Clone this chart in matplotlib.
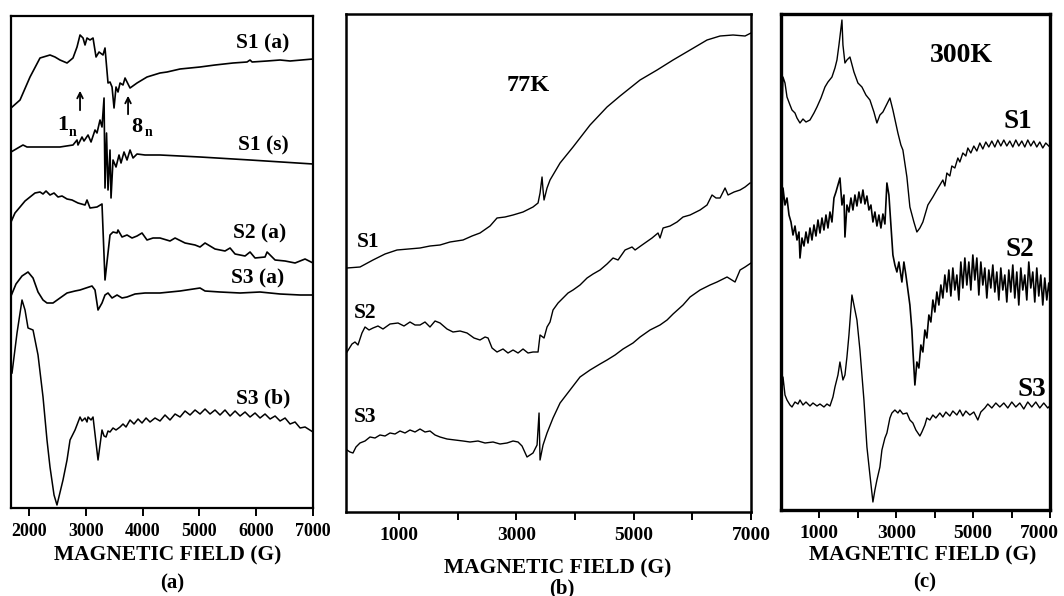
import numpy as np
import matplotlib
matplotlib.use('Agg')
import matplotlib.pyplot as plt
from matplotlib.transforms import ScaledTranslation

plt.rcParams['font.family'] = ['Liberation Serif', 'DejaVu Serif']
plt.rcParams['font.weight'] = 'bold'

# ---- panel (a) : field in G, signal in arbitrary units ----
field_s1a = [1680, 1839, 2015, 2191, 2367, 2455, 2543, 2667, 2772, 2843, 2896, 2949, 2984, 3019, 3072, 3125,
             3178, 3231, 3301, 3336, 3389, 3424, 3460, 3495, 3530, 3565, 3601, 3653, 3689, 3724, 3777, 3900,
             4076, 4305, 4429, 4658, 5010, 5274, 5592, 5838, 5891, 5927, 6191, 6420, 6596, 7000]
sig_s1a = [400, 408, 431, 450, 453, 451, 448, 445, 450, 461, 473, 470, 463, 470, 468, 470,
           451, 456, 453, 460, 425, 426, 421, 400, 421, 416, 425, 423, 430, 426, 420, 425,
           431, 435, 436, 439, 441, 443, 445, 446, 448, 446, 447, 448, 447, 449]

field_s1s = [1680, 1891, 1962, 2367, 2543, 2772, 2843, 2860, 2931, 2966, 3037, 3090, 3160, 3195, 3248, 3283,
             3319, 3336, 3363, 3389, 3424, 3442, 3477, 3530, 3583, 3618, 3671, 3724, 3777, 3830, 3900, 4041,
             4305, 5010, 5891, 7000]
sig_s1s = [356, 363, 361, 361, 361, 363, 368, 363, 371, 367, 373, 366, 378, 375, 388, 381,
           410, 320, 375, 318, 358, 310, 348, 341, 353, 345, 356, 348, 358, 350, 354, 353,
           353, 351, 348, 344]

field_s2a = [1680, 1750, 1839, 1927, 2015, 2103, 2191, 2244, 2297, 2367, 2438, 2508, 2579, 2667, 2755, 2860,
             2984, 3019, 3072, 3195, 3283, 3336, 3424, 3477, 3548, 3565, 3636, 3724, 3812, 3900, 3988, 4076,
             4182, 4305, 4481, 4570, 4746, 4922, 5010, 5098, 5274, 5450, 5539, 5627, 5803, 5891, 5979, 6155,
             6191, 6332, 6508, 6684, 6860, 7000]
sig_s2a = [286, 295, 301, 307, 311, 315, 316, 314, 317, 313, 315, 311, 312, 309, 308, 305,
           303, 308, 300, 301, 304, 228, 273, 276, 275, 278, 271, 273, 270, 272, 275, 268,
           270, 270, 267, 270, 265, 263, 261, 265, 259, 257, 260, 254, 252, 256, 250, 251,
           256, 248, 247, 245, 249, 245]

field_s3a = [1680, 1768, 1874, 1980, 2068, 2156, 2244, 2314, 2420, 2543, 2667, 2808, 2896, 3001, 3107, 3160,
             3213, 3283, 3336, 3389, 3460, 3548, 3636, 3724, 3865, 4041, 4305, 4658, 5010, 5098, 5362, 5715,
             6067, 6420, 6773, 7000]
sig_s3a = [212, 224, 232, 236, 230, 216, 208, 205, 205, 210, 215, 217, 218, 220, 222, 218,
           198, 205, 213, 215, 210, 213, 210, 211, 214, 215, 215, 217, 220, 217, 216, 215,
           216, 214, 213, 213]

field_s3b = [1698, 1786, 1874, 1927, 1980, 2068, 2156, 2244, 2314, 2367, 2438, 2490, 2596, 2667, 2720, 2808,
             2896, 2931, 2984, 3019, 3037, 3090, 3125, 3213, 3283, 3319, 3354, 3389, 3424, 3477, 3530, 3601,
             3653, 3706, 3777, 3847, 3918, 3988, 4059, 4129, 4217, 4305, 4393, 4481, 4570, 4658, 4746, 4834,
             4922, 5010, 5098, 5186, 5274, 5362, 5450, 5539, 5627, 5715, 5803, 5891, 5979, 6067, 6155, 6244,
             6332, 6420, 6508, 6596, 6684, 6773, 6860, 7000]
sig_s3b = [135, 175, 208, 198, 180, 178, 153, 111, 68, 41, 13, 3, 28, 48, 68, 78,
           91, 87, 90, 86, 91, 88, 91, 48, 78, 72, 71, 77, 76, 80, 78, 81,
           84, 81, 88, 84, 89, 85, 90, 86, 90, 87, 93, 88, 94, 91, 97, 93,
           98, 94, 99, 94, 98, 93, 98, 92, 97, 92, 96, 91, 95, 90, 94, 89,
           92, 87, 90, 84, 86, 80, 81, 76]

# ---- panel (b) : 77K ----
field_b1 = [117, 339, 560, 765, 969, 1361, 1531, 1702, 1872, 2094, 2247, 2383, 2554, 2673, 2809, 2946,
            3116, 3286, 3372, 3406, 3440, 3457, 3474, 3525, 3576, 3747, 3968, 4258, 4547, 4769, 5110, 5400,
            5672, 5962, 6251, 6473, 6694, 6899, 7000]
sig_b1 = [244, 245, 252, 258, 262, 264, 266, 267, 270, 272, 276, 279, 286, 294, 295, 297,
          300, 305, 309, 319, 335, 322, 312, 324, 332, 349, 365, 387, 405, 416, 432, 442,
          452, 462, 472, 476, 477, 476, 479]

field_b2 = [117, 202, 253, 304, 372, 424, 492, 560, 645, 730, 850, 986, 1088, 1190, 1276, 1361,
            1446, 1531, 1617, 1702, 1821, 1923, 2043, 2162, 2281, 2383, 2469, 2520, 2588, 2673, 2775, 2860,
            2946, 3031, 3116, 3201, 3286, 3372, 3406, 3474, 3525, 3576, 3627, 3713, 3798, 3883, 3968, 4087,
            4207, 4309, 4428, 4547, 4650, 4735, 4854, 4973, 5025, 5144, 5314, 5416, 5450, 5502, 5621, 5740,
            5842, 5962, 6132, 6251, 6336, 6404, 6473, 6558, 6609, 6711, 6814, 6899, 6984]
sig_b2 = [160, 168, 170, 167, 179, 185, 182, 184, 186, 183, 188, 189, 186, 190, 187, 187,
          190, 185, 191, 189, 183, 180, 181, 179, 174, 172, 175, 174, 164, 160, 163, 159,
          162, 159, 163, 159, 160, 160, 177, 174, 185, 190, 202, 209, 214, 219, 222, 227,
          234, 238, 242, 248, 254, 252, 262, 265, 262, 267, 274, 279, 274, 284, 286, 290,
          295, 297, 302, 307, 317, 314, 314, 324, 317, 320, 322, 325, 329]

field_b3 = [117, 168, 219, 270, 338, 424, 509, 594, 679, 765, 850, 935, 1020, 1105, 1190, 1276,
            1361, 1446, 1531, 1617, 1702, 1821, 1957, 2094, 2213, 2349, 2469, 2605, 2724, 2843, 2946, 3031,
            3099, 3184, 3286, 3355, 3389, 3406, 3457, 3525, 3627, 3747, 3917, 4087, 4258, 4428, 4547, 4684,
            4820, 4990, 5110, 5280, 5450, 5570, 5672, 5842, 5962, 6132, 6302, 6421, 6592, 6728, 6814, 6899, 7000]
sig_b3 = [62, 60, 59, 65, 69, 71, 75, 74, 77, 76, 79, 78, 81, 79, 82, 80,
          83, 80, 81, 77, 75, 73, 72, 71, 70, 71, 69, 70, 68, 69, 71, 70,
          66, 55, 59, 67, 99, 52, 67, 79, 94, 109, 122, 135, 142, 148, 152, 157,
          163, 169, 175, 182, 187, 192, 198, 207, 215, 222, 227, 230, 235, 230, 242, 245, 249]

# ---- panel (c) : 300K ----
field_c1 = [26, 52, 104, 156, 234, 286, 364, 416, 494, 572, 650, 754, 858, 936, 1040, 1144,
            1222, 1326, 1404, 1456, 1508, 1586, 1612, 1664, 1716, 1794, 1898, 2002, 2106, 2210, 2314, 2418,
            2496, 2574, 2652, 2756, 2834, 2912, 3042, 3120, 3172, 3276, 3354, 3458, 3536, 3614, 3692, 3822,
            3952, 4056, 4134, 4212, 4264, 4316, 4394, 4446, 4524, 4602, 4654, 4732, 4810, 4862, 4940, 5018,
            5096, 5174, 5252, 5330, 5408, 5486, 5564, 5642, 5720, 5798, 5876, 5954, 6032, 6110, 6188, 6266,
            6344, 6422, 6500, 6578, 6656, 6734, 6812, 6890, 6994]
sig_c1 = [393, 433, 427, 413, 405, 400, 397, 392, 387, 391, 388, 390, 397, 403, 412, 423,
          428, 433, 442, 450, 465, 490, 465, 447, 450, 453, 438, 427, 423, 415, 410, 398,
          387, 395, 398, 406, 412, 400, 377, 365, 360, 333, 303, 288, 278, 282, 288, 305,
          313, 320, 325, 330, 324, 337, 334, 344, 342, 352, 348, 357, 354, 362, 357, 364,
          359, 367, 361, 368, 363, 369, 363, 370, 364, 370, 364, 369, 363, 370, 364, 369,
          363, 370, 364, 369, 363, 368, 362, 367, 363]

field_c2 = [26, 52, 104, 156, 208, 260, 312, 364, 416, 468, 494, 546, 598, 650, 702, 754,
            806, 858, 910, 962, 1014, 1066, 1118, 1170, 1222, 1274, 1326, 1378, 1430, 1482, 1534, 1586,
            1638, 1664, 1716, 1768, 1820, 1872, 1924, 1976, 2028, 2080, 2132, 2184, 2236, 2288, 2340, 2392,
            2444, 2496, 2548, 2600, 2652, 2704, 2756, 2808, 2860, 2912, 2964, 3016, 3068, 3146, 3198, 3250,
            3302, 3354, 3406, 3432, 3484, 3536, 3588, 3640, 3692, 3744, 3796, 3848, 3900, 3952, 4004, 4056,
            4108, 4160, 4212, 4264, 4316, 4368, 4420, 4472, 4524, 4576, 4628, 4680, 4732, 4784, 4836, 4888,
            4940, 4992, 5044, 5096, 5148, 5200, 5252, 5304, 5356, 5408, 5460, 5512, 5564, 5616, 5668, 5720,
            5772, 5824, 5876, 5928, 5980, 6032, 6084, 6136, 6188, 6240, 6292, 6344, 6396, 6448, 6500, 6552,
            6604, 6656, 6708, 6760, 6812, 6864, 6916, 6968, 6994]
sig_c2 = [295, 322, 305, 312, 295, 288, 275, 284, 270, 278, 252, 272, 264, 278, 267, 282,
          270, 285, 274, 290, 277, 292, 280, 295, 282, 298, 288, 312, 318, 325, 332, 305,
          315, 273, 305, 298, 312, 300, 315, 304, 318, 307, 320, 306, 314, 300, 305, 288,
          298, 284, 295, 282, 296, 286, 327, 315, 285, 255, 245, 238, 248, 228, 248, 235,
          220, 205, 180, 160, 125, 148, 142, 165, 158, 180, 172, 195, 188, 210, 198, 218,
          205, 225, 212, 235, 218, 240, 214, 242, 220, 235, 210, 248, 222, 252, 225, 248,
          220, 255, 230, 252, 215, 248, 225, 242, 212, 240, 222, 245, 218, 238, 210, 242,
          220, 235, 208, 240, 218, 245, 212, 238, 205, 242, 220, 235, 210, 248, 222, 238,
          208, 242, 214, 235, 205, 232, 210, 227, 218]

field_c3 = [26, 52, 104, 156, 234, 286, 364, 442, 494, 572, 650, 754, 832, 936, 1014, 1118,
            1196, 1274, 1352, 1404, 1482, 1534, 1612, 1664, 1716, 1768, 1846, 1898, 1976, 2054, 2106, 2158,
            2236, 2314, 2392, 2444, 2496, 2574, 2626, 2704, 2756, 2834, 2886, 2964, 3042, 3094, 3172, 3276,
            3354, 3432, 3510, 3562, 3614, 3666, 3744, 3796, 3874, 3952, 4030, 4134, 4212, 4290, 4394, 4472,
            4576, 4654, 4732, 4810, 4914, 5018, 5122, 5200, 5304, 5382, 5486, 5590, 5694, 5798, 5902, 6006,
            6110, 6214, 6318, 6422, 6526, 6630, 6734, 6838, 6942, 6994]
sig_c3 = [120, 133, 115, 110, 105, 103, 108, 106, 110, 105, 108, 104, 107, 104, 106, 103,
          106, 104, 113, 123, 135, 148, 130, 135, 153, 175, 215, 205, 190, 160, 135, 110,
          63, 35, 8, 20, 30, 43, 60, 72, 77, 92, 97, 100, 97, 100, 96, 97,
          90, 87, 80, 77, 74, 78, 85, 92, 90, 95, 92, 97, 93, 98, 94, 99,
          95, 100, 94, 99, 95, 98, 90, 98, 102, 106, 102, 107, 103, 107, 102, 108,
          103, 107, 101, 108, 103, 108, 102, 107, 102, 104]

W, H = 1064, 596
fig = plt.figure(figsize=(W / 100, H / 100), dpi=100)


def px_axes(x0, y0, x1, y1):
    return fig.add_axes([x0 / W, 1 - y1 / H, (x1 - x0) / W, (y1 - y0) / H])


def style(ax, frame_lw, label_size, ticks, labels):
    for s in ax.spines.values():
        s.set_linewidth(frame_lw)
    ax.set_yticks([])
    ax.set_xticks(ticks)
    ax.set_xticklabels(labels, fontsize=label_size, fontweight='bold')
    ax.tick_params(axis='x', direction='out', length=6, width=1.4, pad=5)


def ftext(x, y, s, size):
    fig.text(x / W, 1 - y / H, s, ha='center', va='center', fontsize=size, fontweight='bold')


# (a)
ax1 = px_axes(11, 16, 313, 508)
ax1.plot(field_s1a, sig_s1a, 'k-', lw=1.2)
ax1.plot(field_s1s, sig_s1s, 'k-', lw=1.2)
ax1.plot(field_s2a, sig_s2a, 'k-', lw=1.2)
ax1.plot(field_s3a, sig_s3a, 'k-', lw=1.2)
ax1.plot(field_s3b, sig_s3b, 'k-', lw=1.1)
ax1.set_xlim(1680, 7000)
ax1.set_ylim(0, 492)
style(ax1, 1.6, 13, range(2000, 7001, 1000), ['2000', '3000', '4000', '5000', '6000', '7000'])
for x, y, s in [(6120, 465, 'S1 (a)'), (6120, 363, 'S1 (s)'), (6067, 275, 'S2 (a)'),
                (6032, 230, 'S3 (a)'), (6120, 110, 'S3 (b)')]:
    ax1.text(x, y, s, ha='center', va='center', fontsize=15.5, fontweight='bold')
ax1.annotate('', xy=(2896, 420), xytext=(2896, 395),
             arrowprops=dict(arrowstyle='->', lw=1.3, color='k'))
ax1.annotate('', xy=(3742, 415), xytext=(3742, 391),
             arrowprops=dict(arrowstyle='->', lw=1.3, color='k'))
ax1.text(2596, 383, '1', ha='center', va='center', fontsize=16, fontweight='bold')
ax1.text(2770, 376, 'n', ha='center', va='center', fontsize=10, fontweight='bold')
ax1.text(3900, 381, '8', ha='center', va='center', fontsize=16, fontweight='bold')
ax1.text(4094, 375, 'n', ha='center', va='center', fontsize=10, fontweight='bold')
ftext(168, 555, 'MAGNETIC FIELD (G)', 15.5)
ftext(172, 583, '(a)', 15)

# (b)
ax2 = px_axes(346, 14, 751, 512)
ax2.plot(field_b1, sig_b1, 'k-', lw=1.0)
ax2.plot(field_b2, sig_b2, 'k-', lw=1.0)
ax2.plot(field_b3, sig_b3, 'k-', lw=1.0)
ax2.set_xlim(100, 7000)
ax2.set_ylim(0, 498)
style(ax2, 1.8, 14, range(1000, 7001, 1000), ['1000', '', '3000', '', '5000', '', '7000'])
ax2.text(3201, 427, '77K', ha='center', va='center', fontsize=17.5, fontweight='bold')
for x, y, s in [(475, 270, 'S1'), (424, 199, 'S2'), (424, 95, 'S3')]:
    ax2.text(x, y, s, ha='center', va='center', fontsize=15.5, fontweight='bold')
ftext(558, 568, 'MAGNETIC FIELD (G)', 15.5)
ftext(562, 588, '(b)', 15)

# (c)
ax3 = px_axes(781, 14, 1050, 510)
ax3.plot(field_c1, sig_c1, 'k-', lw=1.0)
ax3.plot(field_c2, sig_c2, 'k-', lw=1.2)
ax3.plot(field_c3, sig_c3, 'k-', lw=1.0)
ax3.set_xlim(0, 7000)
ax3.set_ylim(0, 496)
style(ax3, 2.4, 14, range(1000, 7001, 1000), ['1000', '', '3000', '', '5000', '', '7000'])
last = ax3.get_xticklabels()[-1]
last.set_transform(last.get_transform() + ScaledTranslation(-0.11, 0, fig.dpi_scale_trans))
ax3.text(4706, 455, '300K', ha='center', va='center', fontsize=20, fontweight='bold')
for x, y, s in [(6162, 388, 'S1'), (6214, 260, 'S2'), (6526, 120, 'S3')]:
    ax3.text(x, y, s, ha='center', va='center', fontsize=19.5, fontweight='bold')
ftext(923, 555, 'MAGNETIC FIELD (G)', 15.5)
ftext(925, 582, '(c)', 15)

fig.savefig('out.png', dpi=100)
